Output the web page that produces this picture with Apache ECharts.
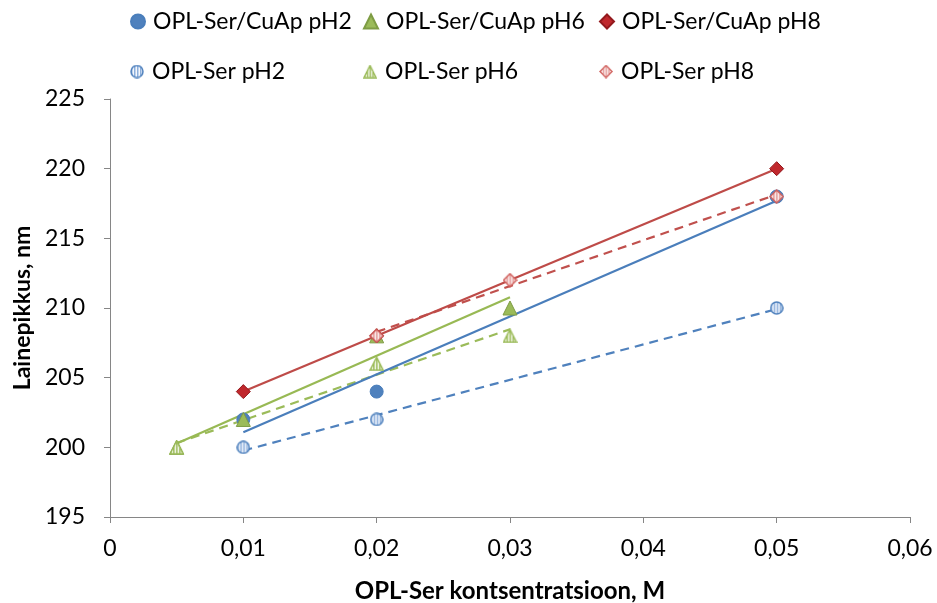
<!DOCTYPE html>
<html>
<head>
<meta charset="utf-8">
<script src="https://cdn.jsdelivr.net/npm/echarts@6/dist/echarts.min.js"></script>
<style>
  html, body { margin: 0; padding: 0; background: #fff; }
  #chart { width: 937px; height: 603px; }
</style>
</head>
<body>
<div id="chart"></div>
<script>
// Measured wavelength (nm) against OPL-Ser concentration (M)
const xTicks = [0, 0.01, 0.02, 0.03, 0.04, 0.05, 0.06];
const yTicks = [195, 200, 205, 210, 215, 220, 225];

const cuApPH2 = [[0.01, 202], [0.02, 204], [0.05, 218]];
const cuApPH6 = [[0.005, 200], [0.01, 202], [0.02, 208], [0.03, 210]];
const cuApPH8 = [[0.01, 204], [0.02, 208], [0.05, 220]];
const serPH2 = [[0.01, 200], [0.02, 202], [0.05, 210]];
const serPH6 = [[0.005, 200], [0.02, 206], [0.03, 208]];
const serPH8 = [[0.02, 208], [0.03, 212], [0.05, 218]];

const names = [
  'OPL-Ser/CuAp pH2', 'OPL-Ser/CuAp pH6', 'OPL-Ser/CuAp pH8',
  'OPL-Ser pH2', 'OPL-Ser pH6', 'OPL-Ser pH8'
];

const FONT = 'Lato, "Open Sans", sans-serif';

// Least-squares line over the x range of a series
function trend(points) {
  const n = points.length;
  let sx = 0, sy = 0;
  points.forEach(p => { sx += p[0]; sy += p[1]; });
  const mx = sx / n, my = sy / n;
  let sxx = 0, sxy = 0;
  points.forEach(p => { sxx += (p[0] - mx) ** 2; sxy += (p[0] - mx) * (p[1] - my); });
  const k = sxy / sxx, b = my - k * mx;
  const xs = points.map(p => p[0]);
  const x0 = Math.min(...xs), x1 = Math.max(...xs);
  return [[x0, k * x0 + b], [x1, k * x1 + b]];
}

// Open marker with a vertical-stripe fill, rendered to an image symbol
function stripedMarker(shape, size, stripe, bg, border) {
  const c = document.createElement('canvas');
  c.width = size; c.height = size;
  const ctx = c.getContext('2d');
  const h = size / 2, r = h - 1;
  ctx.beginPath();
  if (shape === 'circle') {
    ctx.arc(h, h, r, 0, Math.PI * 2);
  } else if (shape === 'triangle') {
    ctx.moveTo(h, 1); ctx.lineTo(size - 1, size - 1); ctx.lineTo(1, size - 1); ctx.closePath();
  } else {
    ctx.moveTo(h, 1); ctx.lineTo(size - 1, h); ctx.lineTo(h, size - 1); ctx.lineTo(1, h); ctx.closePath();
  }
  ctx.save();
  ctx.clip();
  ctx.fillStyle = bg; ctx.fillRect(0, 0, size, size);
  ctx.fillStyle = stripe;
  for (let x = 1; x < size; x += 3) ctx.fillRect(x, 0, 1.5, size);
  ctx.restore();
  ctx.lineWidth = 1.5;
  ctx.strokeStyle = border;
  ctx.stroke();
  return 'image://' + c.toDataURL();
}

const BLUE = '#4F81BD', GREEN = '#9BBB59', RED = '#C0504D';

function trendSeries(points, color, dashed) {
  return {
    type: 'line',
    data: trend(points),
    showSymbol: false,
    symbol: 'none',
    silent: true,
    z: 1,
    lineStyle: { color: color, width: 2.2, type: dashed ? [9, 6] : 'solid' },
    animation: false
  };
}

function markSeries(name, points, symbol, size, fill, border, z) {
  return {
    name: name,
    type: 'scatter',
    data: points,
    symbol: symbol,
    symbolSize: size,
    z: z,
    itemStyle: { color: fill, borderColor: border, borderWidth: 1, opacity: 1 },
    animation: false
  };
}

const series = [
  trendSeries(serPH2, BLUE, true),
  trendSeries(serPH6, GREEN, true),
  trendSeries(serPH8, RED, true),
  trendSeries(cuApPH2, '#4A7EBB', false),
  trendSeries(cuApPH6, '#98B954', false),
  trendSeries(cuApPH8, '#BE4B48', false),
  markSeries(names[0], cuApPH2, 'circle', 13, BLUE, '#4A7EBB', 2),
  markSeries(names[1], cuApPH6, 'triangle', 14, GREEN, '#7E9C44', 2),
  markSeries(names[2], cuApPH8, 'diamond', 14, '#C0282D', '#93191D', 2),
  markSeries(names[3], serPH2, stripedMarker('circle', 14, '#8DB0DC', '#F4F7FC', BLUE), 14, BLUE, BLUE, 3),
  markSeries(names[4], serPH6, stripedMarker('triangle', 15, '#9BBB59', '#F6F9EF', GREEN), 15, GREEN, GREEN, 3),
  markSeries(names[5], serPH8, stripedMarker('diamond', 15, '#E39A98', '#FCF0F0', '#D0605D'), 15, RED, RED, 3)
];

// One legend block per entry so the two rows line up in columns
const legendCols = [130, 363, 599];
const legendRows = [10, 60];
const legends = names.map((nm, i) => ({
  data: [nm],
  left: legendCols[i % 3],
  top: legendRows[Math.floor(i / 3)],
  itemWidth: 14,
  itemHeight: 14,
  itemGap: 0,
  padding: 0,
  selectedMode: false,
  textStyle: { fontFamily: FONT, fontSize: 23, color: '#000', padding: [0, 0, 0, 3] }
}));

const chart = echarts.init(document.getElementById('chart'), null, { renderer: 'canvas' });
chart.setOption({
  backgroundColor: '#fff',
  animation: false,
  legend: legends,
  grid: {
    left: 110, right: 27, top: 99, bottom: 86,
    containLabel: false,
    outerBoundsMode: 'none'
  },
  xAxis: {
    type: 'value',
    min: xTicks[0],
    max: xTicks[xTicks.length - 1],
    interval: 0.01,
    name: 'OPL-Ser kontsentratsioon, M',
    nameLocation: 'middle',
    nameGap: 62,
    nameTextStyle: { fontFamily: FONT, fontSize: 24, fontWeight: 'bold', color: '#000' },
    axisLine: { show: true, lineStyle: { color: '#868686', width: 1 } },
    axisTick: { show: true, length: 6, inside: false, lineStyle: { color: '#868686' } },
    splitLine: { show: false },
    axisLabel: {
      fontFamily: FONT, fontSize: 23, color: '#000', margin: 20,
      formatter: v => {
        const t = xTicks.find(x => Math.abs(x - v) < 1e-9);
        return t === 0 ? '0' : String(t).replace('.', ',');
      }
    }
  },
  yAxis: {
    type: 'value',
    min: yTicks[0],
    max: yTicks[yTicks.length - 1],
    interval: 5,
    name: 'Lainepikkus, nm',
    nameLocation: 'middle',
    nameGap: 71,
    nameRotate: 90,
    nameTextStyle: { fontFamily: FONT, fontSize: 23, fontWeight: 'bold', color: '#000' },
    axisLine: { show: true, lineStyle: { color: '#868686', width: 1 } },
    axisTick: { show: true, length: 6, inside: false, lineStyle: { color: '#868686' } },
    splitLine: { show: false },
    axisLabel: { fontFamily: FONT, fontSize: 23, color: '#000', margin: 25 }
  },
  series: series
});
</script>
</body>
</html>
